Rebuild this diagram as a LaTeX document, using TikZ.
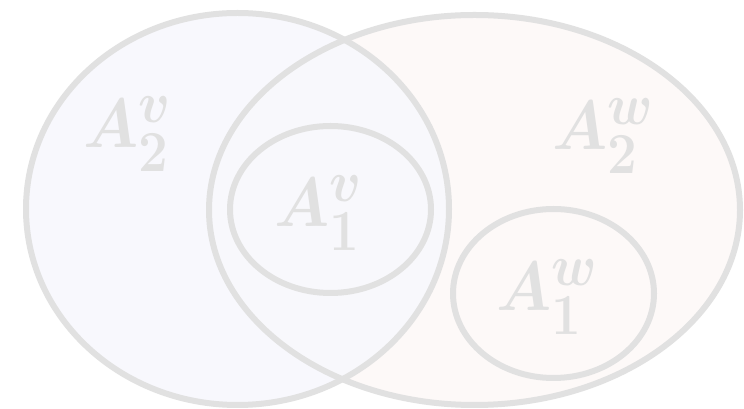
\documentclass[tikz,border=0pt]{standalone}
\usepackage{amsmath}
\definecolor{ringgray}{HTML}{E1E1E1}
\definecolor{lavfill}{HTML}{F8F8FD}
\definecolor{pinkfill}{HTML}{FDF9F8}
\begin{document}
\begin{tikzpicture}[x=1pt,y=1pt,
  ring/.style={draw=ringgray,line width=6pt},
  lbl/.style={text=ringgray,inner sep=0pt,anchor=center,xscale=2.55,yscale=2.8,transform shape,font=\Huge\boldmath}]
\useasboundingbox (0,0) rectangle (744,409);
\fill[white] (0,0) rectangle (744,409);
% fills
\fill[pinkfill] (474.5,199) ellipse [x radius=265.5, y radius=195];
\fill[lavfill,opacity=0.9] (237.5,200) ellipse [x radius=211.5, y radius=196];
% outlines
\draw[ring] (237.5,200) ellipse [x radius=211.5, y radius=196];
\draw[ring] (474.5,199) ellipse [x radius=265.5, y radius=195];
\draw[ring] (330.5,199.5) ellipse [x radius=100.5, y radius=83.5];
\draw[ring] (553.5,115.5) ellipse [x radius=100.5, y radius=84.5];
% labels
\node[lbl] (a2v) at (128,275) {$A_2^v$};
\node[lbl] (a1v) at (319,196) {$A_1^v$};
\node[lbl] (a2w) at (603,273) {$A_2^w$};
\node[lbl] (a1w) at (547,112) {$A_1^w$};
\end{tikzpicture}
\end{document}
